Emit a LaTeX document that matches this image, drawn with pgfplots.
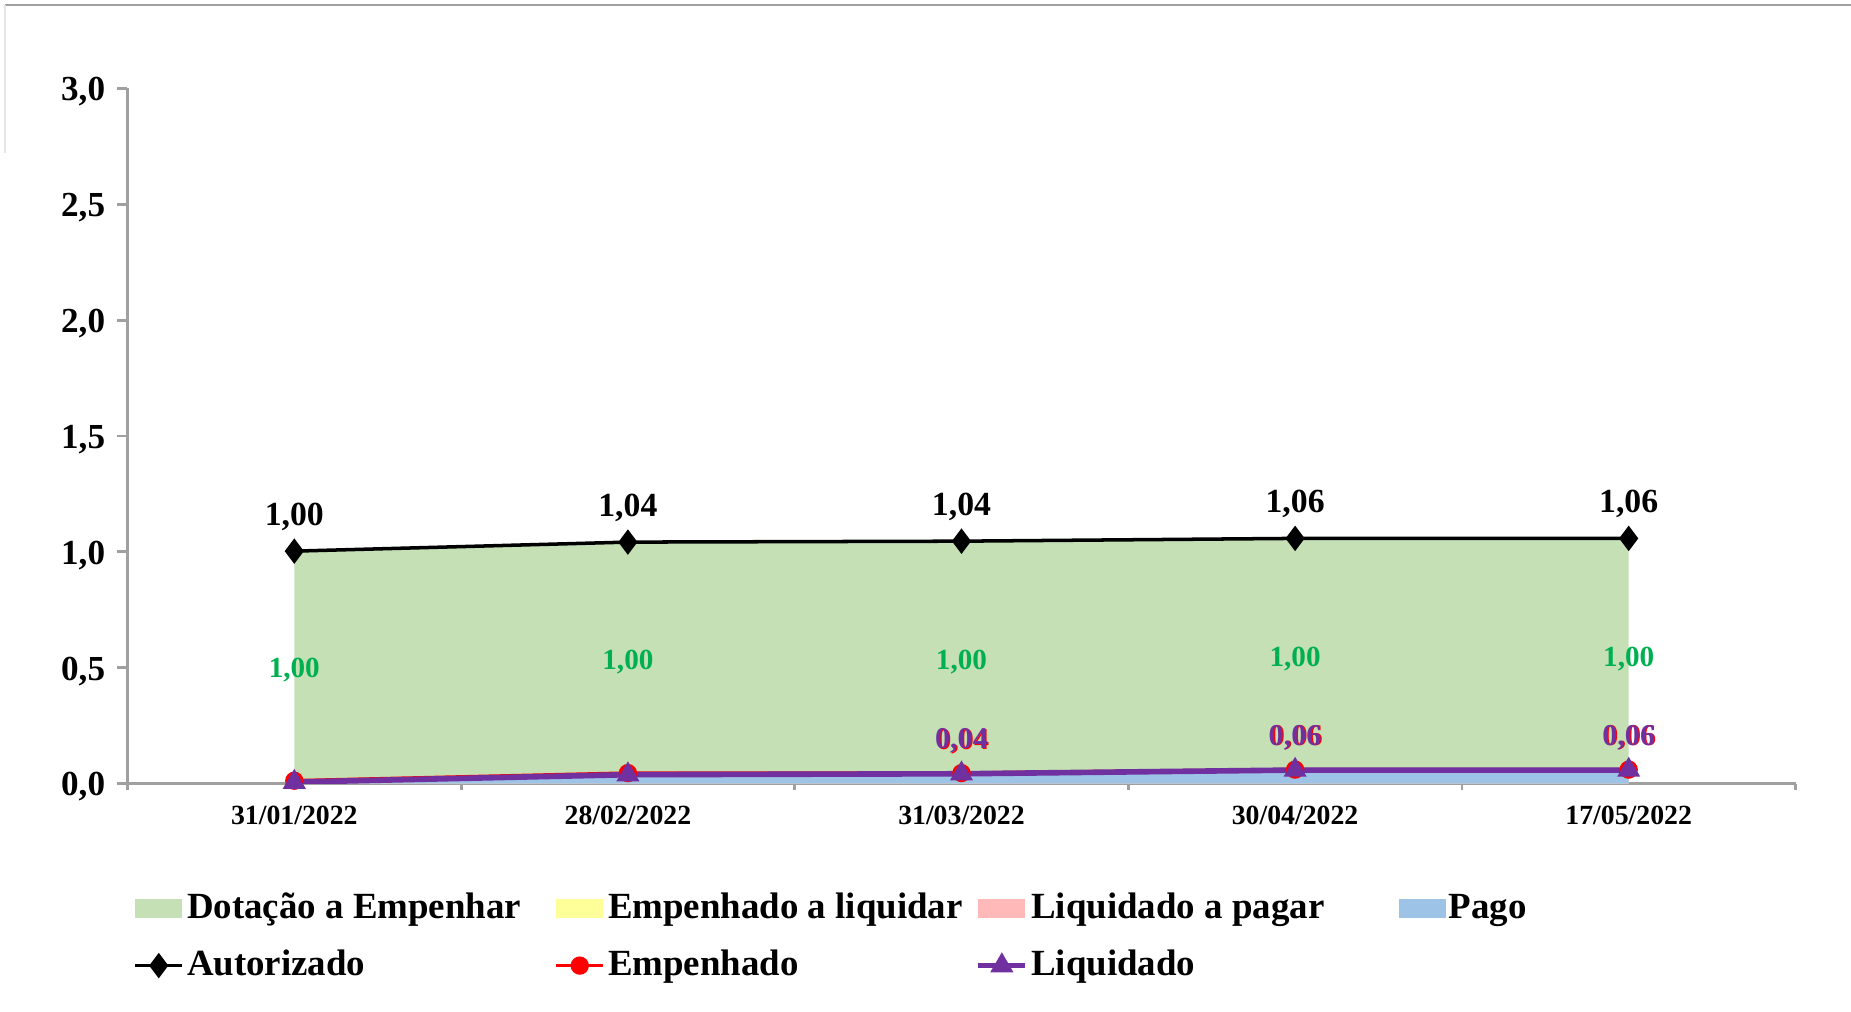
\documentclass[border=0pt]{standalone}
\usepackage{fontspec}
\setmainfont{Liberation Serif}
\usepackage{pgfplots}
\pgfplotsset{compat=1.18}
\definecolor{cgreen}{RGB}{196,224,180}
\definecolor{cyellow}{RGB}{255,255,153}
\definecolor{cpink}{RGB}{255,185,185}
\definecolor{cblue}{RGB}{157,195,230}
\definecolor{cpurple}{RGB}{112,48,160}
\definecolor{clabgreen}{RGB}{0,176,80}
\definecolor{caxis}{RGB}{160,160,160}
\pgfplotsset{
  arealeg/.style={legend image code/.code={\fill[##1, draw=none] (0cm,-0.095cm) rectangle (0.47cm,0.095cm);}},
  lineleg/.style={legend image code/.code={\draw[mark repeat=2,mark phase=2,##1] plot coordinates {(0cm,0cm) (0.235cm,0cm) (0.47cm,0cm)};}},
}
\newcommand{\legtxt}[1]{\makebox[3.705cm][l]{\hspace{0.03cm}#1}}
\begin{document}
\begin{tikzpicture}
\useasboundingbox (-1.275cm,-2.282cm) rectangle (17.235cm,7.835cm);
\draw[caxis, line width=0.8pt] (-1.225cm,7.785cm) -- (17.235cm,7.785cm);
\draw[gray!20, line width=0.6pt] (-1.225cm,7.78cm) -- (-1.225cm,6.3cm);
\begin{axis}[
  at={(0,0)}, anchor=south west,
  scale only axis, width=16.68cm, height=6.95cm,
  xmin=-0.5, xmax=4.5, ymin=0, ymax=3,
  axis lines*=left,
  axis line style={caxis, line width=0.8pt},
  xtick={0,1,2,3,4},
  xticklabels={31/01/2022,28/02/2022,31/03/2022,30/04/2022,17/05/2022},
  minor xtick={-0.5,0.5,1.5,2.5,3.5,4.5},
  ytick={0,0.5,1,1.5,2,2.5,3},
  tick align=outside,
  major x tick style={draw=none},
  minor tick length=0.06cm, major tick length=0.1cm,
  tick style={caxis, line width=0.8pt},
  xticklabel style={font=\fontsize{7.9}{9}\selectfont\bfseries},
  yticklabel style={font=\fontsize{10}{12}\selectfont\bfseries, yshift=-0.035cm},
  /pgf/number format/.cd, fixed, fixed zerofill, precision=1, use comma, assume math mode=true,
  /pgfplots/.cd,
  legend columns=4,
  legend style={at={(axis description cs:0.0036,-0.1578)}, anchor=north west, draw=none, fill=none,
    inner sep=0pt, outer sep=0pt, row sep=0.26cm, column sep=0pt,
    font=\fontsize{10.5}{12}\selectfont\bfseries, nodes={inner sep=0pt}},
  legend cell align=left,
]
\addlegendimage{arealeg, fill=cgreen}
\addlegendentry{\legtxt{Dotação a Empenhar}}
\addlegendimage{arealeg, fill=cyellow}
\addlegendentry{\legtxt{Empenhado a liquidar}}
\addlegendimage{arealeg, fill=cpink}
\addlegendentry{\legtxt{Liquidado a pagar}}
\addlegendimage{arealeg, fill=cblue}
\addlegendentry{\legtxt{Pago}}

% stacked areas (cumulative tops)
\addplot[fill=cgreen, draw=none, forget plot] coordinates {(0,1.003) (1,1.042) (2,1.046) (3,1.058) (4,1.058)} \closedcycle;
\addplot[fill=cyellow, draw=none, forget plot] coordinates {(0,0.012) (1,0.045) (2,0.045) (3,0.060) (4,0.060)} \closedcycle;
\addplot[fill=cpink, draw=none, forget plot] coordinates {(0,0.006) (1,0.038) (2,0.042) (3,0.058) (4,0.058)} \closedcycle;
\addplot[fill=cblue, draw=none, forget plot] coordinates {(0,0.006) (1,0.038) (2,0.042) (3,0.058) (4,0.058)} \closedcycle;

% Dotacao labels
\addplot[draw=none, forget plot, point meta=explicit symbolic, nodes near coords,
  every node near coord/.style={anchor=center, inner sep=0pt, yshift=-0.04cm, text=clabgreen, font=\fontsize{8.3}{10}\selectfont\bfseries}]
  coordinates {(0,0.505)[1,00] (1,0.54)[1,00] (2,0.54)[1,00] (3,0.555)[1,00] (4,0.555)[1,00]};

\addplot[black, line width=1pt, mark=diamond*, mark size=2.8pt, mark options={fill=black},
  lineleg, point meta=explicit symbolic, nodes near coords,
  every node near coord/.style={anchor=base, inner sep=0pt, yshift=0.26cm, text=black, font=\fontsize{9.6}{11}\selectfont\bfseries}]
  coordinates {(0,1.003)[1,00] (1,1.042)[1,04] (2,1.046)[1,04] (3,1.058)[1,06] (4,1.058)[1,06]};
\addlegendentry{\legtxt{Autorizado}}

\addplot[red, line width=1pt, mark=*, mark size=2.1pt, mark options={fill=red},
  lineleg, point meta=explicit symbolic, nodes near coords,
  every node near coord/.style={anchor=base, inner sep=0pt, yshift=0.24cm, xshift=0.012cm, text=red, font=\fontsize{8.6}{10}\selectfont\bfseries}]
  coordinates {(0,0.012)[] (1,0.045)[] (2,0.045)[0,04] (3,0.060)[0,06] (4,0.060)[0,06]};
\addlegendentry{\legtxt{Empenhado}}

\addplot[cpurple, line width=1.6pt, mark=triangle*, mark size=3.3pt, mark options={fill=cpurple, line width=0.5pt},
  lineleg, point meta=explicit symbolic, nodes near coords,
  every node near coord/.style={anchor=base, inner sep=0pt, yshift=0.25cm, text=cpurple, font=\fontsize{8.6}{10}\selectfont\bfseries}]
  coordinates {(0,0.006)[] (1,0.038)[] (2,0.042)[0,04] (3,0.058)[0,06] (4,0.058)[0,06]};
\addlegendentry{\legtxt{Liquidado}}
\end{axis}
\end{tikzpicture}
\end{document}
